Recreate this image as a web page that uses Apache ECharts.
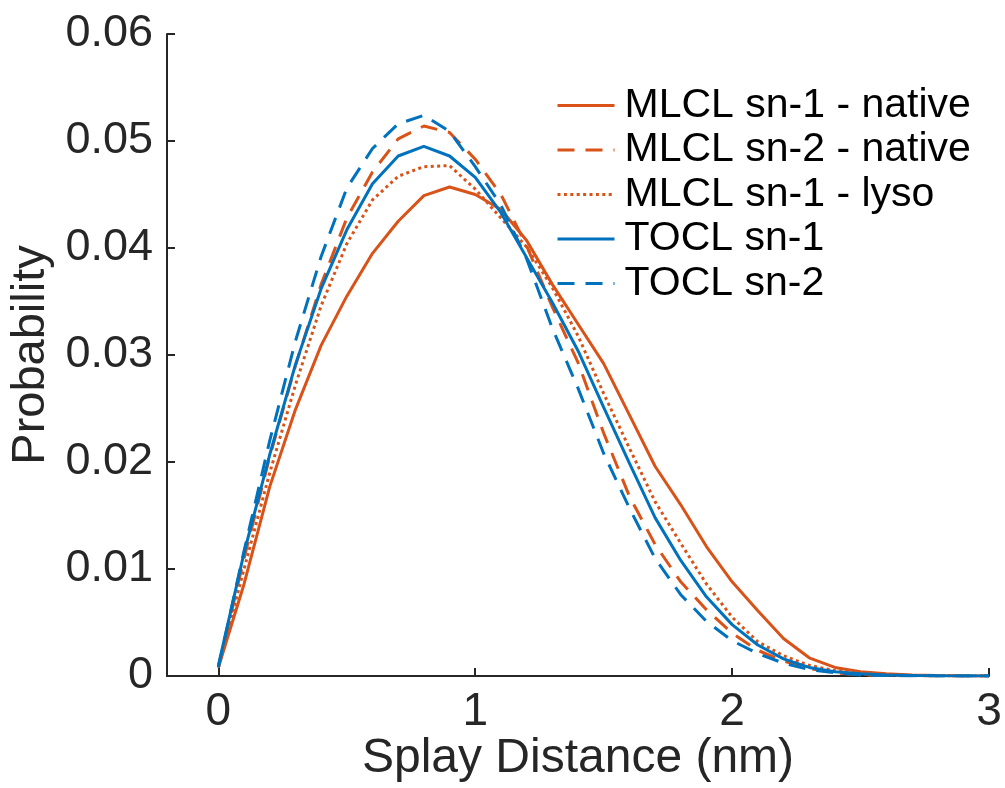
<!DOCTYPE html>
<html>
<head>
<meta charset="utf-8">
<script src="https://cdn.jsdelivr.net/npm/echarts@6/dist/echarts.min.js"></script>
<style>
html,body{margin:0;padding:0;background:#fff;}
#chart{width:1005px;height:788px;}
</style>
</head>
<body>
<div id="chart"></div>
<script>
var splayDistance = [0.0,0.1,0.2,0.3,0.4,0.5,0.6,0.7,0.8,0.9,1.0,1.1,1.2,1.3,1.4,1.5,1.6,1.7,1.8,1.9,2.0,2.1,2.2,2.3,2.4,2.5,2.6,2.7,2.8,2.9,3.0];
var mlclSn1Native = [0.0008,0.0086,0.0177,0.0249,0.0309,0.0355,0.0395,0.0425,0.0449,0.0457,0.0450,0.0436,0.0407,0.0366,0.0329,0.0292,0.0244,0.0196,0.0160,0.0121,0.0088,0.0061,0.0035,0.0017,0.0008,0.0004,0.0002,0.0001,0.00005,0.00002,0.00001];
var mlclSn2Native = [0.0008,0.0110,0.0205,0.0290,0.0366,0.0428,0.0471,0.0502,0.0514,0.0508,0.0483,0.0450,0.0402,0.0345,0.0293,0.0227,0.0168,0.0123,0.0088,0.0062,0.0040,0.0024,0.0014,0.0007,0.0003,0.0001,0.00005,0.00002,0.00001,0,0];
var mlclSn1Lyso = [0.0008,0.0100,0.0190,0.0272,0.0346,0.0404,0.0445,0.0467,0.0476,0.0477,0.0455,0.0428,0.0401,0.0363,0.0318,0.0264,0.0213,0.0163,0.0124,0.0086,0.0055,0.0032,0.0019,0.0010,0.0005,0.0002,0.0001,0.00005,0.00002,0.00001,0];
var toclSn1 = [0.0010,0.0115,0.0207,0.0291,0.0362,0.0417,0.0460,0.0486,0.0495,0.0486,0.0466,0.0433,0.0391,0.0349,0.0304,0.0251,0.0199,0.0148,0.0108,0.0074,0.0048,0.0029,0.0016,0.0008,0.0004,0.0002,0.0001,0.00005,0.00002,0.00001,0];
var toclSn2 = [0.0008,0.0117,0.0220,0.0313,0.0392,0.0456,0.0493,0.0516,0.0524,0.0509,0.0476,0.0440,0.0390,0.0325,0.0269,0.0208,0.0157,0.0110,0.0076,0.0051,0.0033,0.0021,0.0012,0.0006,0.0003,0.0001,0.00005,0.00002,0.00001,0,0];
var seriesNames = ['MLCL sn-1 - native','MLCL sn-2 - native','MLCL sn-1 - lyso','TOCL sn-1','TOCL sn-2'];
var xTickValues = [0,1,2,3];
var yTickLabels = ['0','0.01','0.02','0.03','0.04','0.05','0.06'];

var ORANGE = '#D95319', BLUE = '#0072BD', AXIS = '#262626';
var FONT = '"Liberation Sans", Arial, Helvetica, sans-serif';

function pairs(ys){ return splayDistance.map(function(x,i){ return [x, ys[i]]; }); }
function mk(name, ys, color, type){
  return {
    name: name, type: 'line', data: pairs(ys), showSymbol: false, symbol: 'none',
    smooth: false, animation: false,
    lineStyle: { color: color, width: 3, type: type, cap: 'butt' },
    itemStyle: { color: color }
  };
}

var chart = echarts.init(document.getElementById('chart'), null, {renderer: 'canvas'});
chart.setOption({
  backgroundColor: '#ffffff',
  animation: false,
  grid: { left: 167, right: 16, top: 34, bottom: 112, containLabel: false, outerBoundsMode: 'none' },
  legend: {
    orient: 'vertical', left: 551, top: 80,
    itemWidth: 57, itemHeight: 14, itemGap: 3.5,
    itemStyle: { opacity: 0 },
    lineStyle: { width: 3 },
    textStyle: { fontFamily: FONT, fontSize: 41, color: '#000', lineHeight: 39, padding: [0,0,0,5] },
    data: seriesNames
  },
  xAxis: {
    type: 'value', min: -0.2, max: 3,
    name: 'Splay Distance (nm)', nameLocation: 'middle', nameGap: 59, nameMoveOverlap: false,
    nameTextStyle: { fontFamily: FONT, fontSize: 48, color: AXIS },
    axisLine: { show: true, onZero: false, lineStyle: { color: AXIS, width: 2 } },
    axisTick: { show: true, inside: true, length: 8, customValues: xTickValues, lineStyle: { color: AXIS, width: 2 } },
    axisLabel: { customValues: xTickValues, fontFamily: FONT, fontSize: 46, color: AXIS, margin: 13 },
    splitLine: { show: false }
  },
  yAxis: {
    type: 'value', min: 0, max: 0.06, interval: 0.01,
    name: 'Probability', nameLocation: 'middle', nameGap: 112, nameRotate: 90, nameMoveOverlap: false,
    nameTextStyle: { fontFamily: FONT, fontSize: 47, color: AXIS },
    axisLine: { show: true, onZero: false, lineStyle: { color: AXIS, width: 2 } },
    axisTick: { show: true, inside: true, length: 8, lineStyle: { color: AXIS, width: 2 } },
    axisLabel: {
      fontFamily: FONT, fontSize: 45, color: AXIS, margin: 14,
      formatter: function(v){ var i = Math.round(v/0.01); return yTickLabels[i]; }
    },
    splitLine: { show: false }
  },
  series: [
    mk(seriesNames[0], mlclSn1Native, ORANGE, 'solid'),
    mk(seriesNames[1], mlclSn2Native, ORANGE, [17, 11]),
    mk(seriesNames[2], mlclSn1Lyso, ORANGE, [3, 3.4]),
    mk(seriesNames[3], toclSn1, BLUE, 'solid'),
    mk(seriesNames[4], toclSn2, BLUE, [17, 11])
  ]
});
</script>
</body>
</html>
